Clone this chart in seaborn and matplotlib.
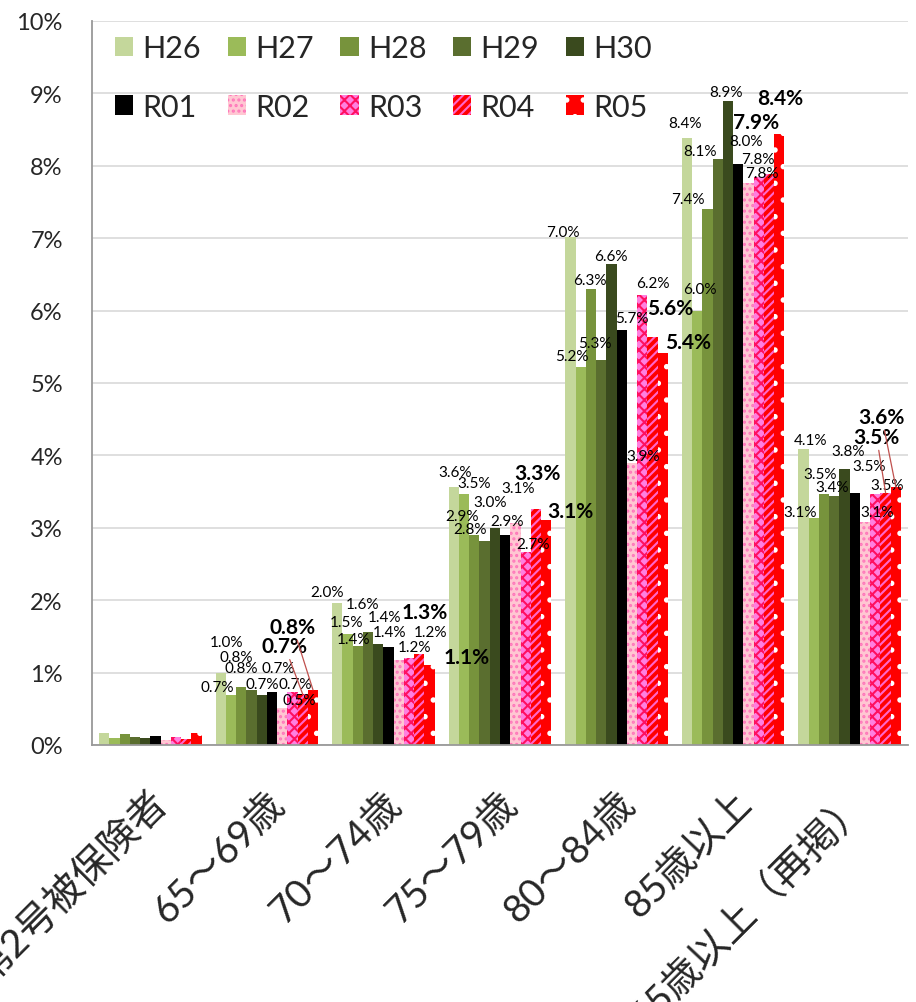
import numpy as np
import pandas as pd
import seaborn as sns
import matplotlib.pyplot as plt
from matplotlib.patches import Patch
from matplotlib.transforms import ScaledTranslation

# Data (percent)
categories = ['第2号被保険者', '65～69歳', '70～74歳', '75～79歳', '80～84歳', '85歳以上', '65歳以上（再掲）']
years = ['H26', 'H27', 'H28', 'H29', 'H30', 'R01', 'R02', 'R03', 'R04', 'R05']

h26 = [0.16, 1.00, 1.96, 3.56, 7.02, 8.39, 4.09]
h27 = [0.10, 0.69, 1.53, 3.47, 5.22, 5.99, 3.14]
h28 = [0.15, 0.80, 1.37, 2.90, 6.30, 7.40, 3.47]
h29 = [0.11, 0.76, 1.56, 2.82, 5.32, 8.10, 3.44]
h30 = [0.10, 0.69, 1.39, 3.00, 6.64, 8.90, 3.81]
r01 = [0.12, 0.73, 1.36, 2.90, 5.73, 8.02, 3.48]
r02 = [0.07, 0.51, 1.17, 3.06, 3.90, 7.76, 3.08]
r03 = [0.11, 0.73, 1.20, 2.67, 6.22, 7.84, 3.46]
r04 = [0.08, 0.70, 1.26, 3.26, 5.64, 7.89, 3.48]
r05 = [0.16, 0.76, 1.11, 3.11, 5.41, 8.44, 3.56]
series = [h26, h27, h28, h29, h30, r01, r02, r03, r04, r05]

y_ticks = list(range(0, 11))

# Styles: facecolor, hatch, hatch colour
styles = {
    'H26': ('#C4D79B', None, '#C4D79B'),
    'H27': ('#9BBB59', None, '#9BBB59'),
    'H28': ('#77933C', None, '#77933C'),
    'H29': ('#5A6E2F', None, '#5A6E2F'),
    'H30': ('#3A4A1E', None, '#3A4A1E'),
    'R01': ('#000000', None, '#000000'),
    'R02': ('#FFC7D2', '...', '#FF77BB'),
    'R03': ('#FF7FE0', 'xxx', '#FF1060'),
    'R04': ('#FF0000', '////', '#FF66CC'),
    'R05': ('#FF0000', '.', '#FFFFFF'),
}

# label offsets in pixels (dx, up) per category / series; None = no label
label_offsets = [
    None,
    [(6, 31), (-14, 8), (-5, 30), (-10, 22), (1, 11), (6, 24), (17, 8), (3, 8), (-18, 48), (-20, 63)],
    [(-10, 11), (-1, 12), (-4, 7), (-6, 28), (6, 27), (1, 15), (16, 13), (21, 26), (5, 42), (37, 8)],
    [(1, 15), (10, 11), (-12, 19), (-15, 12), (-5, 26), (2, 14), (3, 35), (7, 8), (2, 36), (24, 9)],
    [(-8, 5), (-9, 11), (-1, 9), (-6, 17), (-1, 8), (10, 12), (11, 7), (11, 12), (18, 29), (25, 11)],
    [(-2, 15), (3, 22), (-20, 10), (-18, 8), (-2, 9), (8, 23), (9, 24), (3, 4), (-13, 52), (1, 36)],
    [(7, 9), (-14, 6), (-4, 20), (-2, 9), (4, 18), (14, 27), (12, 10), (12, 9), (-9, 56), (-14, 70)],
]
leaders = [(1, 8), (1, 9), (6, 8), (6, 9)]

df = pd.DataFrame({'category': categories * len(years),
                   'year': np.repeat(years, len(categories)),
                   'value': np.concatenate(series)})

sns.set_style('white')
plt.rcParams['font.family'] = ['Lato', 'Noto Sans CJK JP', 'DejaVu Sans']
plt.rcParams['hatch.linewidth'] = 1.5

fig = plt.figure(figsize=(9.16, 10.03), dpi=100)
ax = fig.add_axes([92 / 916, 257 / 1003, 816 / 916, 724 / 1003])

sns.barplot(data=df, x='category', y='value', hue='year', order=categories, hue_order=years,
            width=0.88, errorbar=None, legend=False, ax=ax)

for year, container in zip(years, ax.containers):
    fc, hatch, hc = styles[year]
    for bar in container:
        bar.set_facecolor(fc)
        bar.set_edgecolor(hc)
        bar.set_linewidth(0)
        if hatch:
            bar.set_hatch(hatch)

# data labels
for j in range(len(categories)):
    if label_offsets[j] is None:
        continue
    for i, year in enumerate(years):
        bar = ax.containers[i][j]
        x = bar.get_x() + bar.get_width() / 2
        v = series[i][j]
        dx, up = label_offsets[j][i]
        bold = year in ('R04', 'R05')
        kw = {}
        if (j, i) in leaders:
            kw['arrowprops'] = dict(arrowstyle='-', color='#C0504D', lw=0.9, shrinkA=0, shrinkB=0)
        ax.annotate(f'{v:.1f}%', xy=(x, v), xytext=(dx, up), textcoords='offset pixels',
                    ha='center', va='center', fontsize=15 if bold else 11,
                    fontweight='bold' if bold else 'normal', color='black', **kw)

ax.set_ylim(0, 10)
ax.set_xlim(-0.5, len(categories) - 0.5)
ax.set_yticks(y_ticks)
ax.set_yticklabels([f'{t}%' for t in y_ticks])
ax.yaxis.grid(True, color='#D9D9D9', lw=1.2)
ax.set_axisbelow(True)
ax.set_xlabel('')
ax.set_ylabel('')

for side in ('top', 'right'):
    ax.spines[side].set_visible(False)
for side in ('left', 'bottom'):
    ax.spines[side].set_color('#999999')
    ax.spines[side].set_linewidth(1.3)

ax.set_xticks(range(len(categories)))
ax.set_xticklabels(categories, rotation=45, ha='right', va='center', rotation_mode='anchor')
ax.set_xticks(np.arange(-0.5, len(categories), 1), minor=True)
ax.tick_params(axis='x', which='major', length=0, pad=36, labelsize=28)
ax.tick_params(axis='x', which='minor', length=10, width=1.3, color='#999999', direction='out')
ax.tick_params(axis='y', length=7, width=1.3, color='#999999', direction='out', labelsize=17, pad=14)

shift = ScaledTranslation(12 / 100, -2 / 100, fig.dpi_scale_trans)
for lab in ax.get_xticklabels():
    lab.set_transform(lab.get_transform() + shift)

# legend filled row-wise
handles = [Patch(facecolor=styles[y][0], hatch=styles[y][1], edgecolor=styles[y][2], linewidth=0) for y in years]
order = [0, 5, 1, 6, 2, 7, 3, 8, 4, 9]
ax.legend([handles[k] for k in order], [years[k] for k in order], ncol=5, loc='upper left',
          bbox_to_anchor=(0.028, 0.982), frameon=False, fontsize=22,
          handlelength=0.6, handleheight=0.6, handletextpad=0.3,
          columnspacing=0.87, labelspacing=1.0, borderaxespad=0, borderpad=0)

fig.savefig('out.png', dpi=100)
